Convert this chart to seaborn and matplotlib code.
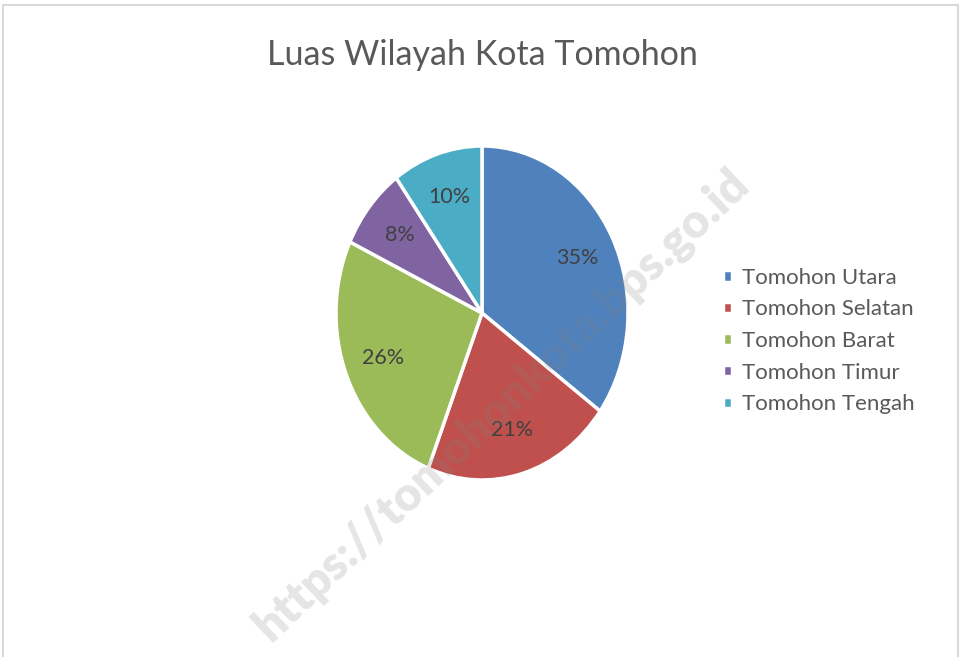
import matplotlib
matplotlib.use("Agg")
import matplotlib.pyplot as plt
import seaborn as sns
from matplotlib.patches import Rectangle

# data
districts = ["Tomohon Utara", "Tomohon Selatan", "Tomohon Barat", "Tomohon Timur", "Tomohon Tengah"]
shares = [35, 21, 26, 8, 10]
slice_colors = ["#4F81BD", "#C0504D", "#9BBB59", "#8064A2", "#4BACC6"]
title = "Luas Wilayah Kota Tomohon"
watermark = "https://tomohonkota.bps.go.id"

sns.set_theme(style="white")
plt.rcParams["font.family"] = ["Lato", "DejaVu Sans"]
text_grey = "#595959"

W, H = 962, 657
fig = plt.figure(figsize=(W / 100, H / 100), dpi=100)
fig.patch.set_facecolor("white")

# pie in a stretched box (reference is slightly squeezed horizontally)
ax = fig.add_axes([336 / W, (H - 480) / H, 292 / W, 334 / H])
wedges, _, pcts = ax.pie(
    shares,
    colors=slice_colors,
    startangle=90,
    counterclock=False,
    autopct=lambda p: f"{p:.0f}%",
    pctdistance=0.73,
    wedgeprops=dict(edgecolor="white", linewidth=2.5),
    textprops=dict(color="#404040", fontsize=15.5),
)
ax.set_aspect("auto")
ax.set_xlim(-1, 1)
ax.set_ylim(-1, 1)
ax.axis("off")

fig.text(482 / W, 1 - 55 / H, title, ha="center", va="center",
         fontsize=24.5, color=text_grey)

leg = fig.legend(
    wedges, districts,
    loc="center left", bbox_to_anchor=(712 / W, 1 - 341 / H),
    frameon=False, fontsize=16, labelcolor=text_grey,
    handlelength=0.4, handleheight=0.4, handletextpad=0.45,
    labelspacing=0.52, borderpad=0,
)

# outer chart border
fig.patches.append(Rectangle((3 / W, -0.01), 955 / W, 1 - 5 / H + 0.01,
                             transform=fig.transFigure, fill=False,
                             edgecolor="#D9D9D9", linewidth=1.5))

# diagonal watermark
fig.text(502 / W, 1 - 405 / H, watermark, ha="center", va="center",
         rotation=43.5, fontsize=34, fontweight="heavy",
         color="#7F7F7F", alpha=0.2, zorder=10)

fig.savefig("out.png", dpi=100)
